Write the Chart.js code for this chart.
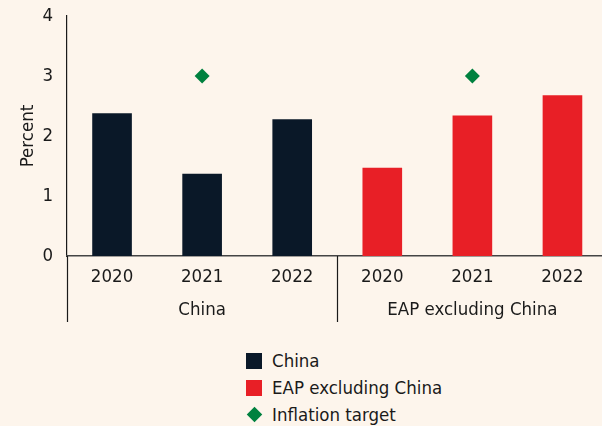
<!DOCTYPE html>
<html>
<head>
<meta charset="utf-8">
<script src="https://cdn.jsdelivr.net/npm/chart.js@4.4.0/dist/chart.umd.min.js"></script>
<style>
  html, body { margin: 0; padding: 0; background: #fdf5ec; overflow: hidden; }
  #wrap { position: relative; width: 615px; height: 322px; }
  #legend { position: absolute; left: 246px; top: 347px; font-family: "DejaVu Sans Condensed", sans-serif; font-size: 18.5px; color: #1a1a1a; }
  #legend div { height: 27px; display: flex; align-items: center; }
  #legend span.box { display: inline-block; width: 16px; height: 16px; margin-right: 10px; }
  #legend span.dia { display: inline-block; width: 11px; height: 11px; margin: 0 12px 0 3px; transform: rotate(45deg); }
</style>
</head>
<body>
<div id="wrap"><canvas id="c"></canvas></div>
<div id="legend"></div>
<script>
const years = ["2020", "2021", "2022", "2020", "2021", "2022"];
const groups = ["China", "EAP excluding China"];
const china = [2.38, 1.37, 2.28, null, null, null];
const eap = [null, null, null, 1.47, 2.34, 2.68];
const target = [null, 3, null, null, 3, null];
const yTicks = [0, 1, 2, 3, 4];

const FONT = "'DejaVu Sans Condensed', sans-serif";
const SIZE = 18.5;
const INK = "#1a1a1a";

// group separator + extension of the left axis through the label rows
const separators = {
  id: "separators",
  afterDraw(chart) {
    const { ctx, chartArea } = chart;
    const x = chart.scales.x, x2 = chart.scales.x2;
    const mid = (x.getPixelForValue(2) + x.getPixelForValue(3)) / 2;
    ctx.save();
    ctx.strokeStyle = INK;
    ctx.lineWidth = 1.2;
    [chartArea.left, mid].forEach(px => {
      ctx.beginPath();
      ctx.moveTo(Math.round(px) + 0.5, chartArea.bottom);
      ctx.lineTo(Math.round(px) + 0.5, x2.bottom);
      ctx.stroke();
    });
    ctx.restore();
  }
};

const chart = new Chart(document.getElementById("c"), {
  data: {
    labels: years,
    datasets: [
      { type: "line", label: "Inflation target", data: target, showLine: false,
        pointStyle: "rectRot", pointRadius: 7.5, pointHoverRadius: 7.5,
        backgroundColor: "#00813f", borderColor: "#00813f", borderWidth: 0, order: 0 },
      { type: "bar", label: "China", data: china, backgroundColor: "#0a1828",
        barPercentage: 0.44, categoryPercentage: 1, grouped: false, order: 1 },
      { type: "bar", label: "EAP excluding China", data: eap, backgroundColor: "#e81f26",
        barPercentage: 0.44, categoryPercentage: 1, grouped: false, order: 1 }
    ]
  },
  options: {
    responsive: true,
    maintainAspectRatio: false,
    animation: false,
    layout: { padding: { top: 16, right: 2, left: 0, bottom: 0 } },
    plugins: { legend: { display: false }, tooltip: { enabled: false } },
    scales: {
      y: {
        min: 0, max: 4,
        afterBuildTicks: s => { s.ticks = yTicks.map(v => ({ value: v })); },
        afterFit: s => { s.width = 67; s.paddingTop = 0; },
        grid: { display: false, drawTicks: false },
        border: { display: true, color: INK, width: 1.2 },
        ticks: { padding: 14, color: INK, font: { family: FONT, size: SIZE } },
        title: { display: true, text: "Percent", color: INK, font: { family: FONT, size: SIZE }, padding: { top: 17, bottom: 0 } }
      },
      x: {
        afterFit: s => { s.height = 33; },
        grid: { display: false, drawTicks: false },
        border: { display: true, color: "#444", width: 1.5 },
        ticks: { padding: 10, color: INK, font: { family: FONT, size: SIZE } }
      },
      x2: {
        type: "category",
        labels: groups,
        position: "bottom",
        offset: true,
        afterFit: s => { s.height = 33; },
        grid: { display: false, drawTicks: false },
        border: { display: false },
        ticks: { padding: 10, color: INK, font: { family: FONT, size: SIZE } }
      }
    }
  },
  plugins: [separators]
});

// html legend built from the chart datasets
const legend = document.getElementById("legend");
[1, 2, 0].forEach(i => {
  const ds = chart.data.datasets[i];
  const row = document.createElement("div");
  const mark = document.createElement("span");
  mark.className = ds.type === "line" ? "dia" : "box";
  mark.style.background = ds.backgroundColor;
  row.appendChild(mark);
  row.appendChild(document.createTextNode(ds.label));
  legend.appendChild(row);
});
</script>
</body>
</html>
